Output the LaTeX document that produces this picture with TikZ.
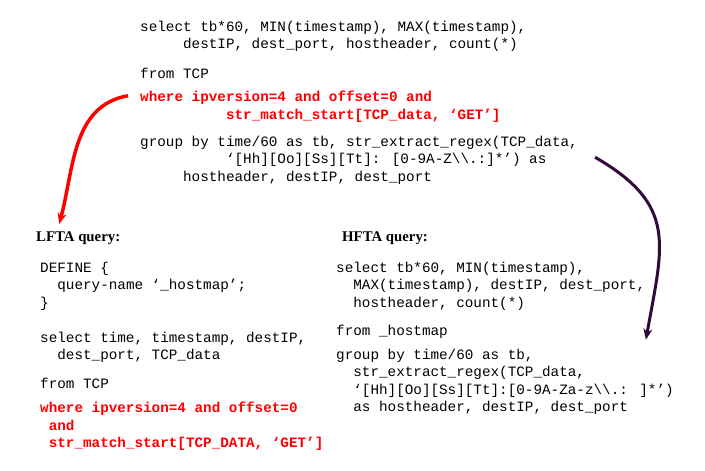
\documentclass[tikz,border=0pt]{standalone}
\usepackage{fontspec}
\setmainfont{Liberation Serif}
\newfontfamily\codefont{Liberation Mono}
\usetikzlibrary{arrows.meta, calc}
\definecolor{cred}{HTML}{FF0000}
\definecolor{cpurple}{HTML}{33093D}
\newcommand{\hl}[1]{\textcolor{cred}{\bfseries #1}}
\newcommand{\ind}[1]{\hspace*{#1\fontcharwd\font`x}}
\tikzset{
  code/.style={font=\codefont\fontsize{14.3}{17.5}\selectfont, align=left, anchor=north west, inner sep=0pt, execute at begin node=\strut},
  title/.style={font=\bfseries\fontsize{14.8}{17}\selectfont, anchor=base west, inner sep=0pt},
  arrow/.style={-{Stealth[length=11pt, width=9pt]}, draw=#1, line width=3.5pt},
  arrow/.default=cred,
}

\begin{document}
\begin{tikzpicture}[x=1pt, y=1pt]
  \useasboundingbox (0,0) rectangle (705,471);
  % original query
  \node[code] (tsel) at (140,450.25) {select tb*60, MIN(timestamp), MAX(timestamp),\\ \ind{5}destIP, dest\_port, hostheader, count(*)};
  \node[code] (tfrom) at (140,405.25) {from TCP};
  \node[code] (twhere) at (140,380.25) {\hl{where ipversion=4 and offset=0 and}\\ \ind{10}\hl{str\_match\_start[TCP\_data, ‘GET’]}};
  \node[code] (tgroup) at (140,335.25) {group by time/60 as tb, str\_extract\_regex(TCP\_data,\\ \ind{10}‘[Hh][Oo][Ss][Tt]: [0-9A-Z\textbackslash\textbackslash.:]*’) as\\ \ind{5}hostheader, destIP, dest\_port};
  % LFTA query
  \node[title] (ltitle) at (36,229) {LFTA query:};
  \node[code] (ldef) at (40,209.25) {DEFINE \{\\ \ind{2}query-name ‘\_hostmap’;\\ \}};
  \node[code] (lsel) at (40,139.25) {select time, timestamp, destIP,\\ \ind{2}dest\_port, TCP\_data};
  \node[code] (lfrom) at (40,95.25) {from TCP};
  \node[code] (lwhere) at (40,69.25) {\hl{where ipversion=4 and offset=0}\\ \ind{1}\hl{and}\\ \ind{1}\hl{str\_match\_start[TCP\_DATA, ‘GET’]}};
  % HFTA query
  \node[title] (htitle) at (342,229) {HFTA query:};
  \node[code] (hsel) at (336,209.25) {select tb*60, MIN(timestamp),\\ \ind{2}MAX(timestamp), destIP, dest\_port,\\ \ind{2}hostheader, count(*)};
  \node[code] (hfrom) at (336,148.25) {from \_hostmap};
  \node[code] (hgroup) at (336,122.25) {group by time/60 as tb,\\ \ind{2}str\_extract\_regex(TCP\_data,\\ \ind{2}‘[Hh][Oo][Ss][Tt]:[0-9A-Za-z\textbackslash\textbackslash.: ]*’)\\ \ind{2}as hostheader, destIP, dest\_port};
  % arrows
  \draw[arrow] ([shift={(-12pt,-5pt)}]twhere.north west) to[out=190, in=75] ([shift={(-19pt,8pt)}]ltitle.north);
  \draw[arrow=cpurple, line width=3pt] ([shift={(17pt,4pt)}]tgroup.east) to[out=-30, in=80, looseness=1.3] ([shift={(-28pt,9pt)}]hgroup.north east);
\end{tikzpicture}
\end{document}
